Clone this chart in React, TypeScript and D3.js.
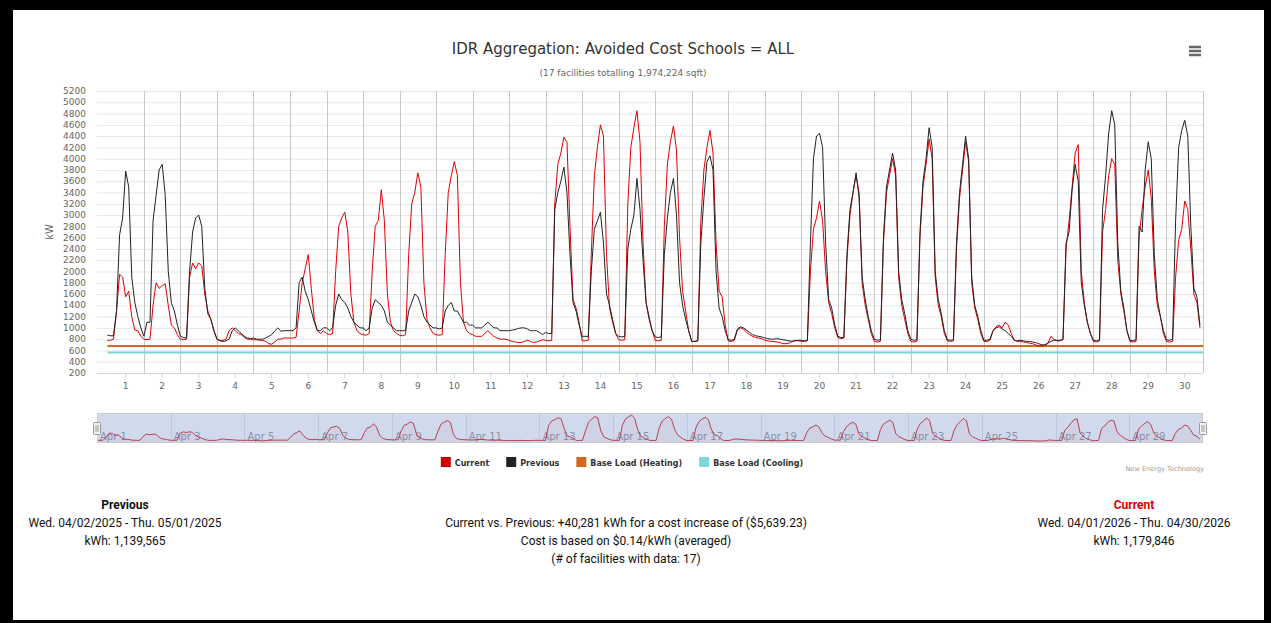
import React from 'react';
import * as d3 from 'd3';

// ---- DATA ----
const dayTicks = ['1','2','3','4','5','6','7','8','9','10','11','12','13','14','15','16','17','18','19','20','21','22','23','24','25','26','27','28','29','30'];
const yTicks = [200,400,600,800,1000,1200,1400,1600,1800,2000,2200,2400,2600,2800,3000,3200,3400,3600,3800,4000,4200,4400,4600,4800,5000,5200];
const navLabels = ['Apr 1','Apr 3','Apr 5','Apr 7','Apr 9','Apr 11','Apr 13','Apr 15','Apr 17','Apr 19','Apr 21','Apr 23','Apr 25','Apr 27','Apr 29'];
const sampleHours = 2; // one value every 2 hours, 12 per day

// Current (2026) kW, 12 values per day
const currentKw: number[] = [
  780, 780, 800, 1300, 1950, 1900, 1550, 1650, 1200, 960, 950, 850,
  800, 790, 800, 1400, 1800, 1700, 1750, 1780, 1400, 1050, 1000, 880,
  800, 790, 800, 1900, 2150, 2050, 2150, 2100, 1600, 1300, 1150, 950,
  800, 780, 780, 800, 950, 1000, 950, 900, 880, 830, 800, 800,
  790, 790, 780, 780, 760, 720, 710, 750, 800, 800, 820, 820,
  820, 820, 830, 1300, 1800, 2050, 2300, 1700, 1150, 950, 900, 950,
  900, 880, 900, 2000, 2800, 2950, 3050, 2700, 1600, 1100, 950, 900,
  880, 870, 900, 2000, 2800, 2900, 3450, 2900, 1600, 1100, 950, 900,
  870, 860, 880, 2300, 3200, 3400, 3750, 3500, 1800, 1150, 1000, 900,
  880, 870, 880, 2300, 3400, 3700, 3950, 3700, 1800, 1100, 950, 900,
  880, 850, 850, 850, 900, 950, 900, 850, 820, 800, 800, 800,
  780, 760, 750, 740, 740, 760, 780, 760, 740, 750, 770, 790,
  780, 770, 780, 3200, 3900, 4100, 4380, 4300, 2800, 1500, 1350, 1100,
  770, 770, 780, 2300, 3700, 4200, 4600, 4400, 2300, 1350, 1100, 900,
  790, 780, 790, 3200, 4200, 4550, 4850, 4300, 2500, 1450, 1200, 950,
  780, 770, 780, 2800, 3900, 4300, 4580, 4150, 2600, 1650, 1300, 950,
  760, 760, 770, 2900, 3800, 4200, 4500, 4100, 2500, 1650, 1550, 1050,
  770, 760, 780, 960, 1000, 980, 920, 880, 850, 830, 820, 810,
  780, 770, 760, 760, 750, 740, 720, 720, 730, 760, 780, 770,
  760, 760, 770, 2000, 2750, 2950, 3250, 2900, 2000, 1450, 1250, 1000,
  830, 810, 820, 2200, 3000, 3400, 3700, 3400, 1800, 1400, 1150, 900,
  760, 750, 760, 2500, 3400, 3700, 4000, 3700, 1900, 1400, 1150, 900,
  760, 750, 760, 2600, 3500, 3900, 4350, 4000, 1900, 1400, 1200, 900,
  770, 760, 770, 2400, 3300, 3800, 4300, 3950, 1800, 1350, 1150, 900,
  760, 760, 780, 950, 1020, 1050, 1000, 1100, 1050, 900, 780, 760,
  760, 750, 740, 730, 720, 700, 680, 680, 690, 720, 850, 800,
  770, 770, 790, 2400, 2900, 3500, 4100, 4250, 2000, 1450, 1100, 900,
  760, 750, 770, 2700, 3100, 3700, 4000, 3900, 2200, 1600, 1300, 950,
  760, 750, 760, 2600, 3100, 3500, 3800, 3300, 2000, 1400, 1200, 900,
  760, 750, 760, 1900, 2550, 2750, 3250, 3100, 2400, 1600, 1450, 1000,
];

// Previous (2025) kW, 12 values per day
const previousKw: number[] = [
  870, 860, 860, 1300, 2650, 2950, 3780, 3500, 1900, 1450, 1200, 1000,
  850, 1100, 1100, 2900, 3350, 3800, 3900, 3350, 2000, 1450, 1300, 1050,
  850, 830, 820, 2000, 2700, 2950, 3000, 2800, 1700, 1250, 1150, 950,
  800, 770, 760, 770, 800, 950, 1000, 950, 900, 850, 820, 810,
  820, 800, 800, 800, 820, 850, 880, 950, 1000, 940, 950, 950,
  950, 950, 1000, 1800, 1900, 1650, 1500, 1300, 1100, 950, 950, 1000,
  1000, 950, 1000, 1400, 1600, 1500, 1450, 1350, 1200, 1100, 1050, 1000,
  1000, 950, 1000, 1350, 1500, 1450, 1400, 1300, 1100, 1050, 1000, 950,
  950, 950, 950, 1300, 1450, 1600, 1550, 1400, 1200, 1100, 1050, 1000,
  1000, 980, 1000, 1300, 1400, 1450, 1300, 1300, 1200, 1100, 1100, 1050,
  1050, 1000, 1000, 1000, 1050, 1100, 1050, 1000, 1000, 950, 950, 950,
  950, 960, 970, 990, 1000, 1000, 980, 950, 950, 950, 920, 880,
  920, 900, 900, 3100, 3400, 3600, 3850, 3400, 2300, 1450, 1300, 1050,
  850, 850, 850, 2000, 2750, 2900, 3050, 2500, 1600, 1400, 1150, 900,
  850, 840, 850, 2400, 2750, 3000, 3650, 3100, 2200, 1450, 1150, 950,
  840, 830, 840, 2300, 2950, 3400, 3650, 3000, 1800, 1400, 1150, 950,
  760, 760, 770, 2500, 3300, 3950, 4050, 3800, 2000, 1350, 1200, 950,
  790, 780, 800, 980, 1020, 1000, 960, 920, 880, 860, 850, 840,
  820, 810, 800, 800, 810, 800, 790, 780, 770, 760, 770, 780,
  780, 770, 780, 2500, 4000, 4400, 4450, 4200, 2500, 1500, 1350, 1050,
  850, 830, 830, 2300, 3100, 3400, 3750, 3300, 1900, 1500, 1200, 950,
  800, 780, 790, 2600, 3500, 3800, 4100, 3800, 2000, 1500, 1250, 950,
  800, 780, 790, 2700, 3600, 4000, 4550, 4200, 2000, 1500, 1250, 950,
  790, 780, 790, 2500, 3400, 3900, 4400, 4000, 1900, 1400, 1200, 950,
  780, 780, 800, 950, 1000, 1020, 980, 950, 900, 850, 780, 770,
  780, 770, 760, 760, 750, 740, 720, 700, 700, 730, 760, 780,
  780, 780, 800, 2500, 2700, 3450, 3900, 3600, 1800, 1400, 1100, 900,
  780, 770, 790, 3100, 3700, 4450, 4850, 4600, 2500, 1650, 1350, 950,
  780, 770, 790, 2800, 2700, 3800, 4300, 4000, 2300, 1500, 1200, 950,
  790, 780, 800, 2900, 4200, 4500, 4680, 4400, 2800, 1700, 1550, 1050,
];

const baseLoadHeating = 680;
const baseLoadCooling = 565;

const legendItems = [
  { name: 'Current', color: '#d40000' },
  { name: 'Previous', color: '#222222' },
  { name: 'Base Load (Heating)', color: '#d2691e' },
  { name: 'Base Load (Cooling)', color: '#7fd6d6' },
];

const summaryPrevious = ['Previous', 'Wed. 04/02/2025 - Thu. 05/01/2025', 'kWh: 1,139,565'];
const summaryCurrent = ['Current', 'Wed. 04/01/2026 - Thu. 04/30/2026', 'kWh: 1,179,846'];
const summaryMiddle = [
  'Current vs. Previous: +40,281 kWh for a cost increase of ($5,639.23)',
  'Cost is based on $0.14/kWh (averaged)',
  '(# of facilities with data: 17)',
];

const FONT = '"DejaVu Sans", sans-serif';
const ROBOTO = 'Roboto, sans-serif';

type Pt = [number, number];
const toSeries = (arr: number[]): Pt[] => arr.map((v, i) => [(i * sampleHours) / 24, v]);

let measureCtx: CanvasRenderingContext2D | null = null;
function measure(txt: string, font: string): number {
  if (!measureCtx) measureCtx = document.createElement('canvas').getContext('2d');
  if (!measureCtx) return txt.length * 5;
  measureCtx.font = font;
  return measureCtx.measureText(txt).width;
}

export default function App() {
  const W = 1271, H = 623;
  const pl = 97, pr = 1203, pt = 91, pb = 373;
  const x = d3.scaleLinear().domain([-0.285, 30]).range([pl, pr]);
  const y = d3.scaleLinear().domain([200, 5200]).range([pb, pt]);
  const line = d3.line<Pt>().x(d => x(d[0])).y(d => y(d[1]));

  const cur = toSeries(currentKw);
  const prev = toSeries(previousKw);

  // navigator
  const nTop = 413, nBot = 443;
  const nx = d3.scaleLinear().domain([0, 30]).range([pl, pr]);
  const ny = d3.scaleLinear().domain([d3.min(currentKw) as number, d3.max(currentKw) as number]).range([441, 415]);
  const nLine = d3.line<Pt>().x(d => nx(d[0])).y(d => ny(d[1]));
  const nArea = d3.area<Pt>().x(d => nx(d[0])).y0(nBot).y1(d => ny(d[1]));

  // legend layout (centered)
  const legendFont = 'bold 8px "DejaVu Sans"';
  const sym = 10, symGap = 4, itemGap = 17;
  const widths = legendItems.map(it => sym + symGap + measure(it.name, legendFont));
  const total = d3.sum(widths) + itemGap * (legendItems.length - 1);
  let lx = 622 - total / 2;
  const legendX = widths.map(w => { const p = lx; lx += w + itemGap; return p; });

  return (
    <div style={{ position: 'absolute', left: 0, top: 0 }}>
      <svg width={W} height={H} style={{ display: 'block' }}>
        <rect x={0} y={0} width={W} height={H} fill="#000" />
        <rect x={13} y={10} width={1251} height={610} fill="#fff" />

        <text x={623} y={54} textAnchor="middle" fontFamily={FONT} fontSize={15} fill="#333">IDR Aggregation: Avoided Cost Schools = ALL</text>
        <text x={623} y={76} textAnchor="middle" fontFamily={FONT} fontSize={9} fill="#666">(17 facilities totalling 1,974,224 sqft)</text>

        {/* menu icon */}
        {[47, 51, 55].map(yy => (
          <line key={yy} x1={1189} x2={1201} y1={yy} y2={yy} stroke="#666" strokeWidth={2.5} />
        ))}

        {/* horizontal gridlines */}
        {yTicks.map(t => (
          <line key={'g' + t} x1={pl} x2={pr} y1={y(t) + 0.5} y2={y(t) + 0.5} stroke="#e6e6e6" strokeWidth={1} />
        ))}
        {/* day separators */}
        {dayTicks.map((_, i) => (
          <line key={'s' + i} x1={Math.round(x(i + 1)) + 0.5} x2={Math.round(x(i + 1)) + 0.5} y1={pt} y2={pb} stroke="#c8c8c8" strokeWidth={1} />
        ))}

        {/* y labels */}
        {yTicks.map(t => (
          <text key={'yl' + t} x={86} y={y(t)} dy="0.35em" textAnchor="end" fontFamily={FONT} fontSize={9} fill="#666">{t}</text>
        ))}
        <text transform={`translate(53,${(pt + pb) / 2}) rotate(-90)`} textAnchor="middle" fontFamily={FONT} fontSize={10} fill="#666">kW</text>

        {/* base loads */}
        <line x1={x(0)} x2={pr} y1={y(baseLoadHeating)} y2={y(baseLoadHeating)} stroke="#d2691e" strokeWidth={2} />
        <line x1={x(0)} x2={pr} y1={y(baseLoadCooling)} y2={y(baseLoadCooling)} stroke="#7fd6d6" strokeWidth={2} />

        {/* series */}
        <path d={line(cur) as string} fill="none" stroke="#e00000" strokeWidth={1} strokeLinejoin="round" />
        <path d={line(prev) as string} fill="none" stroke="#222" strokeWidth={1} strokeLinejoin="round" />

        {/* x axis */}
        <line x1={pl} x2={pr} y1={pb + 0.5} y2={pb + 0.5} stroke="#ccd6eb" />
        {dayTicks.map((d, i) => (
          <g key={'xt' + d}>
            <line x1={x(i + 0.5)} x2={x(i + 0.5)} y1={pb} y2={pb + 5} stroke="#ccd6eb" />
            <text x={x(i + 0.5)} y={389} textAnchor="middle" fontFamily={FONT} fontSize={9} fill="#666">{d}</text>
          </g>
        ))}

        {/* navigator */}
        <g>
          <rect x={pl} y={nTop} width={pr - pl} height={nBot - nTop} fill="#fff" />
          {navLabels.map((lab, i) => (
            <g key={'n' + lab}>
              <line x1={Math.round(nx(i * 2)) + 0.5} x2={Math.round(nx(i * 2)) + 0.5} y1={nTop} y2={nBot} stroke="#e6e6e6" />
              <text x={nx(i * 2) + 3} y={440} fontFamily={FONT} fontSize={10} fill="#999">{lab}</text>
            </g>
          ))}
          <path d={nArea(cur) as string} fill="rgba(221,0,0,0.05)" />
          <path d={nLine(cur) as string} fill="none" stroke="#dd2222" strokeWidth={1} />
          <rect x={pl} y={nTop} width={pr - pl} height={nBot - nTop} fill="rgba(102,133,194,0.3)" />
          <rect x={pl + 0.5} y={nTop + 0.5} width={pr - pl - 1} height={nBot - nTop - 1} fill="none" stroke="#cccccc" />
          {[pl, pr].map(hx => (
            <g key={'h' + hx}>
              <rect x={hx - 3.5} y={422.5} width={7} height={12} rx={1} fill="#f2f2f2" stroke="#999" />
              <line x1={hx - 1} x2={hx - 1} y1={425} y2={432} stroke="#999" />
              <line x1={hx + 1} x2={hx + 1} y1={425} y2={432} stroke="#999" />
            </g>
          ))}
        </g>

        {/* legend */}
        {legendItems.map((it, i) => (
          <g key={it.name}>
            <rect x={legendX[i]} y={457} width={sym} height={sym} fill={it.color} />
            <text x={legendX[i] + sym + symGap} y={465.5} fontFamily={FONT} fontSize={8} fontWeight="bold" fill="#333">{it.name}</text>
          </g>
        ))}
        <text x={1204} y={471} textAnchor="end" fontFamily={FONT} fontSize={6.6} fill="#999">New Energy Technology</text>

        {/* summary blocks */}
        {summaryPrevious.map((s, i) => (
          <text key={'p' + i} x={125} y={509 + i * 18} textAnchor="middle" fontFamily={ROBOTO} fontSize={12} fontWeight={i === 0 ? 'bold' : 'normal'} fill="#111">{s}</text>
        ))}
        {summaryCurrent.map((s, i) => (
          <text key={'c' + i} x={1134} y={509 + i * 18} textAnchor="middle" fontFamily={ROBOTO} fontSize={12} fontWeight={i === 0 ? 'bold' : 'normal'} fill={i === 0 ? '#e00000' : '#111'}>{s}</text>
        ))}
        {summaryMiddle.map((s, i) => (
          <text key={'m' + i} x={626} y={527 + i * 18} textAnchor="middle" fontFamily={ROBOTO} fontSize={12} fill="#111">{s}</text>
        ))}
      </svg>
    </div>
  );
}
